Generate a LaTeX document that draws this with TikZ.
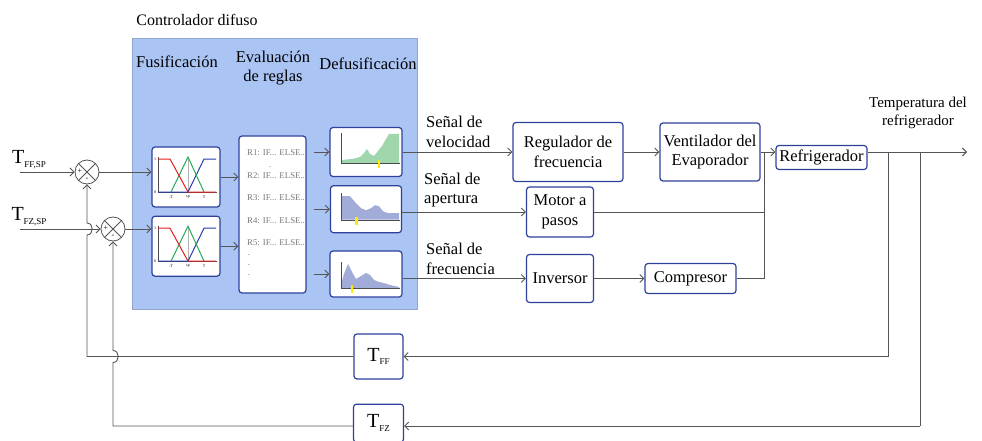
\documentclass[tikz,border=0pt]{standalone}
\usepackage{fontspec}
\setmainfont{Liberation Serif}
\usepackage{tikz}
\usetikzlibrary{arrows.meta,positioning,calc}

\definecolor{panelblue}{RGB}{170,196,244}
\definecolor{paneledge}{RGB}{145,165,205}
\definecolor{boxedge}{RGB}{45,65,155}
\definecolor{wire}{RGB}{85,85,85}
\definecolor{areagreen}{RGB}{160,214,172}
\definecolor{areablue}{RGB}{162,172,216}
\definecolor{ruletext}{RGB}{120,120,120}
\definecolor{mfred}{RGB}{230,30,30}
\definecolor{mfgreen}{RGB}{40,170,90}
\definecolor{mfblue}{RGB}{40,60,170}

\newcommand{\tname}[1]{{\fontsize{20}{20}\selectfont T}\raisebox{-0.5ex}{\fontsize{9}{9}\selectfont #1}}
% membership functions inside a fuzzification box
\newcommand{\fuzzplot}[1]{%
 \begin{scope}[shift={(#1.center)}]
  \draw[black!70,line width=0.4pt] (-28,-20) -- (-28,15) -- (31,15);
  \draw[gray!60,line width=0.6pt] (2,15) -- (2,-19);
  \draw[mf,mfblue] (-28,15) -- (2,15) -- (18,-18) -- (30,-18);
  \draw[mf,mfgreen] (-15,15) -- (2,-20) -- (18,15);
  \draw[mf,mfred] (-28,-18) -- (-16,-18) -- (2,15) -- (30,15);
  \node[tick] at (-15,20) {-T};
  \node[tick] at (2,20) {sp};
  \node[tick] at (18,20) {T};
  \node[tick] at (-31,-18) {1};
  \node[tick] at (-31,15) {0};
 \end{scope}}
% aggregated output area inside a defuzzification box
\newcommand{\areaplot}[6]{%
 \begin{scope}[shift={(#1.center)}]
  \fill[#2] (-25,#3) -- #5 -- (33,#3) -- cycle;
  \draw[black!70,line width=0.4pt] (-25,#4) -- (-25,#3) -- (34,#3);
  \fill[yellow!95!orange] (#6-1.2,#3-3) rectangle (#6+1.2,#3+5);
 \end{scope}}

\begin{document}
\begin{tikzpicture}[x=1pt,y=-1pt,font=\fontsize{16.5}{19.5}\selectfont,
 blk/.style={draw=boxedge,line width=1.2pt,rounded corners=3pt,fill=white,align=center,inner sep=2pt},
 plotbox/.style={draw=boxedge,line width=1.2pt,rounded corners=3pt,fill=white,inner sep=0pt},
 sumjct/.style={draw=wire,line width=0.8pt,circle,minimum size=24pt,inner sep=0pt,fill=white,
  path picture={\draw[draw=wire,line width=0.8pt] (path picture bounding box.north west)--(path picture bounding box.south east)
   (path picture bounding box.north east)--(path picture bounding box.south west);}},
 link/.style={draw=wire,line width=0.9pt},
 arrow/.style={link,-{Straight Barb[length=4pt,width=8pt]}},
 mf/.style={line width=1pt},
 tick/.style={font=\fontsize{4}{4}\selectfont,inner sep=0pt},
 ruletxt/.style={font=\fontsize{8.8}{10}\selectfont,text=ruletext,inner sep=0pt},
 sig/.style={anchor=west,align=left,inner sep=0pt},
 sgn/.style={font=\fontsize{8}{8}\selectfont,inner sep=0pt}]
\useasboundingbox (0,0) rectangle (982,441);

% fuzzy controller panel
\node[draw=paneledge,fill=panelblue,minimum width=285pt,minimum height=271pt,inner sep=0pt] (panel) at (274.5,173.5) {};
\node[font=\fontsize{16}{19}\selectfont] (title) at (197,20) {Controlador difuso};
\node (lfus) at (177,62) {Fusificación};
\node[align=center] (leval) at (273,68) {Evaluación\\de reglas};
\node (ldef) at (368,64) {Defusificación};

\node[plotbox,minimum width=68pt,minimum height=60pt] (fz1) at (186,177) {};
\node[plotbox,minimum width=68pt,minimum height=60pt,below=8pt of fz1] (fz2) {};
\fuzzplot{fz1}
\fuzzplot{fz2}

\node[plotbox,minimum width=67pt,minimum height=157pt] (rules) at (272.5,214.5) {};
\foreach \r/\yy in {1/153,2/176,3/198,4/221,5/243}
  \node[ruletxt,anchor=west] at (247,\yy) {R\r: IF... ELSE...};
\node[ruletxt] at (270,167) {.};
\foreach \yy in {255,265,275}
  \node[ruletxt] at (249,\yy) {.};

\node[plotbox,minimum width=72pt,minimum height=49pt] (df1) at (366,152) {};
\node[plotbox,minimum width=71pt,minimum height=47pt,below=8pt of df1] (df2) {};
\node[plotbox,minimum width=72pt,minimum height=46pt] (df3) at (366,274) {};
\areaplot{df1}{areagreen}{11}{-19}{(-25,8) -- (-14,7) -- (-6,5) -- (-2,1) -- (1,-3) -- (4,2) -- (8,4) -- (12,-1) -- (16,-6) -- (20,-13) -- (23,-18) -- (33,-18)}{13}
\areaplot{df2}{areablue}{10.5}{-16.5}{(-25,-13) -- (-16,-13) -- (-10,-6) -- (-5,-1) -- (0,1) -- (5,-1) -- (9,-4) -- (13,-3) -- (17,2) -- (22,4) -- (33,4)}{-9.5}
\areaplot{df3}{areablue}{14}{-12}{(-25,10) -- (-22,0) -- (-18,-10) -- (-14,-2) -- (-10,5) -- (-5,2) -- (0,-1) -- (4,1) -- (8,6) -- (13,8) -- (18,9) -- (24,11) -- (33,13)}{-14}

% plant blocks
\node[blk,minimum width=110pt,minimum height=59pt] (reg) at (568,152) {Regulador de\\frecuencia};
\node[blk,minimum width=100pt,minimum height=58pt] (vent) at (710,152) {Ventilador del\\Evaporador};
\node[blk,minimum width=91pt,minimum height=24pt] (refr) at (821.5,157.5) {Refrigerador};
\node[blk,minimum width=67pt,minimum height=50pt] (motor) at (560,212) {Motor a\\pasos};
\node[blk,minimum width=67pt,minimum height=48pt] (inv) at (560,278.5) {Inversor};
\node[blk,minimum width=91pt,minimum height=30pt] (comp) at (690.5,278.5) {Compresor};
\node[blk,minimum width=49pt,minimum height=45pt] (tff) at (378.5,356.5) {\tname{FF}};
\node[blk,minimum width=50pt,minimum height=38pt,below=24pt of tff] (tfz) {\tname{FZ}};

% summing junctions
\node[sumjct] (sum1) at (87,172) {};
\node[sumjct] (sum2) at (113,229) {};
\node[sgn] at (80,171) {+};
\node[sgn] at (87,179) {-};
\node[sgn] at (106,228) {+};
\node[sgn] at (113,236) {-};

\coordinate (in1) at (20,172);
\coordinate (in2) at (20,229);
\coordinate (jct) at (764,152);
\coordinate (out) at (967,152);
\coordinate (tap1) at (888,152);
\coordinate (tap2) at (920,152);
\coordinate (fb2) at (920,426);

% labels
\node (lin1) at (29,160) {\tname{FF,SP}};
\node (lin2) at (29,217) {\tname{FZ,SP}};
\node[sig] (lvel) at (426,132) {Señal de\\velocidad};
\node[sig] (lape) at (424,190) {Señal de\\apertura};
\node[sig] (lfre) at (426,259) {Señal de\\frecuencia};
\node[font=\fontsize{15}{18}\selectfont,align=center] (ltemp) at (918,113) {Temperatura del\\refrigerador};

% connectors
\draw[arrow] (in1) -- (sum1.west);
\draw[arrow] (in2) -- (sum2.west);
\draw[arrow] (sum1.east) -- (sum1.east -| fz1.west);
\draw[arrow] (sum2.east) -- (sum2.east -| fz2.west);
\draw[arrow] (fz1.east) -- (fz1.east -| rules.west);
\draw[arrow] (fz2.east) -- (fz2.east -| rules.west);
\foreach \d in {df1,df2,df3}
  \draw[arrow,shorten <=7pt] (\d.west -| rules.east) -- (\d.west);
\draw[arrow] (df1.east) -- (df1.east -| reg.west);
\draw[arrow] (reg) -- (vent);
\draw[arrow] (vent.east) -- (vent.east -| refr.west);
\draw[arrow] (motor.west -| df2.east) -- (motor.west);
\draw[arrow] (inv.west -| df3.east) -- (inv.west);
\draw[arrow] (inv) -- (comp);
\draw[link] (motor.east) -- (motor.east -| jct);
\draw[link] (comp.east) -| (jct);
\draw[arrow] (out -| refr.east) -- (out);
% feedback paths
\draw[arrow] (tap1) |- (tff.east);
\draw[arrow] (tff.west) -- (tff.west -| sum1) -- ($(sum1 |- in2)+(0,6)$) .. controls +(7,0) and +(7,0) .. ($(sum1 |- in2)+(0,-6)$) -- (sum1.south);
\draw[link] (tap2) -- (fb2);
\draw[arrow] (fb2) -- (fb2 -| tfz.east);
\draw[arrow] (tfz.west |- fb2) -- (fb2 -| sum2) -- ($(sum2 |- tff.west)+(0,6)$) .. controls +(7,0) and +(7,0) .. ($(sum2 |- tff.west)+(0,-6)$) -- (sum2.south);
\end{tikzpicture}
\end{document}
